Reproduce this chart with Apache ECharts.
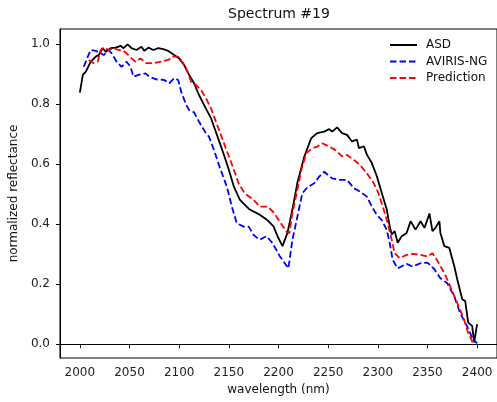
<!DOCTYPE html>
<html>
<head>
<meta charset="utf-8">
<script src="https://cdn.jsdelivr.net/npm/echarts@6/dist/echarts.min.js"></script>
<style>
html,body{margin:0;padding:0;background:#fff;}
#chart{width:497px;height:402px;}
</style>
</head>
<body>
<div id="chart"></div>
<script>
// ASD (solid black)
var asdWave = [2000,2003,2006,2011,2016,2019,2023,2026,2031,2036,2041,2044,2048,2052,2057,2062,2065,2069,2074,2079,2084,2089,2095,2100,2105,2110,2115,2120,2125,2132,2138,2145,2150,2155,2161,2171,2181,2188,2195,2199,2204,2209,2214,2219,2226,2233,2239,2246,2251,2254,2259,2264,2269,2274,2279,2281,2286,2289,2294,2299,2304,2309,2312,2314,2317,2320,2324,2329,2333,2338,2343,2347,2352,2355,2358,2362,2363,2367,2372,2377,2380,2385,2388,2391,2395,2397,2400];
var asdRefl = [0.839,0.898,0.909,0.942,0.959,0.964,0.987,0.975,0.987,0.989,0.995,0.987,1.0,0.987,0.981,0.992,0.978,0.989,0.981,0.987,0.984,0.978,0.964,0.953,0.931,0.898,0.870,0.831,0.798,0.754,0.698,0.632,0.582,0.526,0.482,0.449,0.432,0.416,0.393,0.360,0.327,0.371,0.449,0.538,0.626,0.687,0.704,0.709,0.717,0.709,0.723,0.704,0.698,0.676,0.682,0.654,0.660,0.632,0.604,0.560,0.504,0.449,0.393,0.366,0.377,0.338,0.360,0.371,0.410,0.382,0.410,0.388,0.436,0.377,0.388,0.410,0.371,0.327,0.321,0.260,0.216,0.150,0.144,0.072,0.061,0.006,0.067];

// AVIRIS-NG (blue dashed)
var avirisWave = [2004,2008,2011,2016,2021,2024,2029,2032,2037,2042,2047,2051,2054,2059,2066,2070,2077,2085,2090,2095,2099,2102,2107,2110,2115,2120,2127,2130,2135,2140,2148,2153,2158,2165,2170,2175,2181,2188,2194,2201,2210,2214,2219,2224,2229,2236,2241,2246,2254,2261,2269,2276,2282,2289,2294,2299,2304,2309,2312,2315,2320,2329,2335,2343,2350,2357,2363,2370,2377,2383,2390,2396,2400];
var avirisRefl = [0.925,0.959,0.981,0.978,0.970,0.964,0.981,0.970,0.942,0.925,0.942,0.925,0.892,0.898,0.903,0.892,0.883,0.881,0.870,0.887,0.881,0.842,0.798,0.781,0.773,0.742,0.703,0.692,0.648,0.598,0.525,0.459,0.403,0.392,0.392,0.364,0.348,0.360,0.337,0.295,0.253,0.348,0.425,0.503,0.523,0.537,0.559,0.575,0.553,0.548,0.548,0.520,0.509,0.492,0.459,0.431,0.414,0.381,0.337,0.281,0.253,0.268,0.259,0.270,0.272,0.250,0.220,0.203,0.159,0.103,0.059,0.014,0.003];

// Prediction (red dashed)
var predWave = [2009,2014,2018,2021,2024,2029,2034,2039,2044,2047,2052,2056,2061,2067,2074,2082,2089,2094,2099,2104,2107,2112,2117,2122,2127,2132,2137,2142,2147,2152,2157,2160,2166,2175,2181,2189,2195,2201,2208,2211,2214,2219,2223,2228,2234,2239,2244,2251,2257,2264,2269,2276,2282,2289,2295,2300,2305,2310,2314,2317,2322,2329,2335,2343,2350,2355,2360,2367,2373,2380,2387,2391,2396];
var predRefl = [0.948,0.937,0.942,0.981,0.989,0.981,0.987,0.981,0.978,0.970,0.953,0.942,0.953,0.937,0.937,0.942,0.948,0.959,0.959,0.937,0.920,0.875,0.864,0.848,0.820,0.787,0.742,0.698,0.653,0.609,0.564,0.535,0.503,0.481,0.459,0.459,0.440,0.410,0.375,0.370,0.437,0.514,0.581,0.637,0.653,0.659,0.670,0.659,0.648,0.626,0.631,0.614,0.598,0.570,0.542,0.509,0.459,0.403,0.348,0.303,0.287,0.298,0.301,0.298,0.292,0.303,0.278,0.237,0.192,0.137,0.081,0.037,0.003];

var xTicks = [2000,2050,2100,2150,2200,2250,2300,2350,2400];
var yTicks = [0,0.2,0.4,0.6,0.8,1.0];

(function(){
	var font = 'DejaVu Sans';
	function pairs(xs, ys){
		var out = [];
		for (var i = 0; i < xs.length; i++) out.push([xs[i], ys[i]]);
		return out;
	}
	var myChart = echarts.init(document.getElementById('chart'));
	var option = {
		animation: false,
		title: {
			text: 'Spectrum #19',
			left: 279,
			textAlign: 'center',
			top: 7,
			padding: 0,
			textStyle: {fontFamily: font, fontSize: 14, fontWeight: 'normal', color: '#111'}
		},
		//图例，只画线不画圆点
		legend: {
			orient: 'vertical',
			left: 389,
			top: 39,
			padding: 0,
			itemWidth: 27,
			itemHeight: 14,
			itemGap: 4.5,
			itemStyle: {opacity: 0},
			textStyle: {fontFamily: font, fontSize: 12, color: '#111', padding: [0, 0, 0, 4]},
			data: ['ASD', 'AVIRIS-NG', 'Prediction']
		},
		grid: {
			left: 57,
			top: 29,
			width: 443,
			height: 329,
			show: true,
			borderColor: '#000',
			borderWidth: 1
		},
		xAxis: {
			type: 'value',
			min: 1980,
			max: 2420,
			name: 'wavelength (nm)',
			nameLocation: 'middle',
			nameGap: 15,
			nameTextStyle: {fontFamily: font, fontSize: 12, color: '#111'},
			axisLine: {lineStyle: {color: '#000'}},
			axisTick: {length: 4, customValues: xTicks, lineStyle: {color: '#000'}},
			axisLabel: {
				customValues: xTicks, margin: 9, fontFamily: font, fontSize: 12, color: '#222',
				formatter: function(v){ return String(v); }
			},
			splitLine: {show: false}
		},
		yAxis: {
			type: 'value',
			min: -0.046,
			max: 1.051,
			name: 'normalized reflectance',
			nameLocation: 'middle',
			nameGap: 32,
			nameTextStyle: {fontFamily: font, fontSize: 12, color: '#111'},
			axisLine: {show: true, lineStyle: {color: '#000'}},
			axisTick: {show: true, length: 4, customValues: yTicks, lineStyle: {color: '#000'}},
			axisLabel: {
				customValues: yTicks, margin: 10, fontFamily: font, fontSize: 12, color: '#222',
				formatter: function(v){ return v.toFixed(1); }
			},
			splitLine: {show: false}
		},
		series: [
			{
				name: 'ASD',
				type: 'line',
				symbol: 'none',
				data: pairs(asdWave, asdRefl),
				lineStyle: {color: '#000', width: 1.8},
				itemStyle: {color: '#000'}
			},
			{
				name: 'AVIRIS-NG',
				type: 'line',
				symbol: 'none',
				data: pairs(avirisWave, avirisRefl),
				lineStyle: {color: '#0000ff', width: 1.8, type: [6.5, 3]},
				itemStyle: {color: '#0000ff'}
			},
			{
				name: 'Prediction',
				type: 'line',
				symbol: 'none',
				data: pairs(predWave, predRefl),
				lineStyle: {color: '#ff0000', width: 1.8, type: [6.5, 3]},
				itemStyle: {color: '#ff0000'}
			}
		]
	};
	myChart.setOption(option);
})();
</script>
</body>
</html>
